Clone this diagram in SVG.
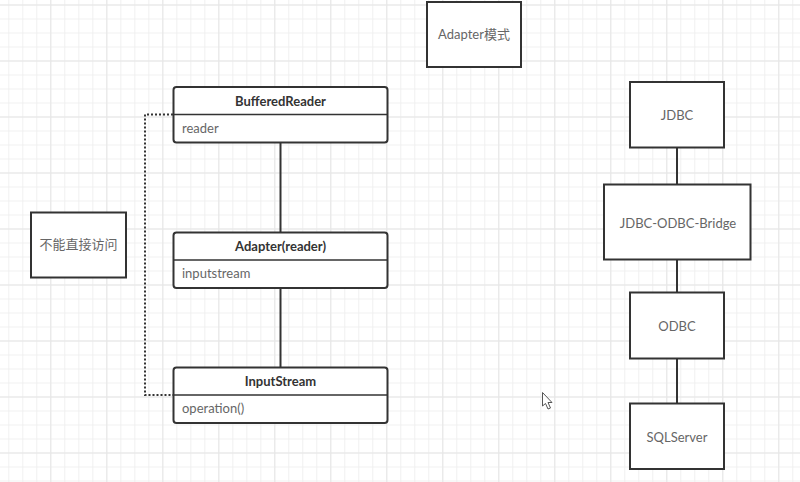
<svg xmlns="http://www.w3.org/2000/svg" width="800" height="482" viewBox="0 0 800 482">
<defs>
<pattern id="minor" x="8.3" y="4.5" width="14" height="14" patternUnits="userSpaceOnUse">
<path d="M0 0.5H14M0.5 0V14" fill="none" stroke="#f0f0f0" stroke-width="1"/>
</pattern>
<pattern id="major" x="50.3" y="4.5" width="56" height="56" patternUnits="userSpaceOnUse">
<path d="M0 0.5H56M0.5 0V56" fill="none" stroke="#e6e6e6" stroke-width="1"/>
</pattern>
</defs>
<style>
.box{fill:#fff;stroke:#333;stroke-width:2}
.cls{fill:#fff;stroke:#333;stroke-width:2}
.div{stroke:#333;stroke-width:1.5}
.t{font-family:Lato,"Noto Sans CJK SC",sans-serif;font-size:13px;fill:#666}
.h{font-family:Lato,"Noto Sans CJK SC",sans-serif;font-size:13px;font-weight:bold;fill:#333;text-anchor:middle}
.c{text-anchor:middle}
.ln{stroke:#333;stroke-width:2;fill:none}
.dot{stroke:#333;stroke-width:2;fill:none;stroke-dasharray:2 2}
</style>
<rect width="800" height="482" fill="#fff"/>
<rect width="800" height="482" fill="url(#minor)"/>
<rect width="800" height="482" fill="url(#major)"/>

<g id="connectors">
<line class="ln" x1="280.5" y1="143" x2="280.5" y2="232"/>
<line class="ln" x1="280.5" y1="288" x2="280.5" y2="367"/>
<polyline class="dot" points="173,114.5 145,114.5 145,395 173,395"/>
<line class="ln" x1="677" y1="147" x2="677" y2="184"/>
<line class="ln" x1="677" y1="259" x2="677" y2="292"/>
<line class="ln" x1="677" y1="358" x2="677" y2="403"/>
</g>

<g id="title">
<rect class="box" x="427" y="2" width="94" height="65"/>
<text class="t c" x="474" y="39">Adapter模式</text>
</g>

<g id="note">
<rect class="box" x="31" y="212.5" width="95" height="65"/>
<text class="t c" x="78.5" y="249">不能直接访问</text>
</g>

<g id="BufferedReader">
<rect class="cls" x="173.5" y="87" width="214" height="55.5" rx="3"/>
<line class="div" x1="173.5" y1="114.5" x2="387.5" y2="114.5"/>
<text class="h" x="280.5" y="106">BufferedReader</text>
<text class="t" x="182" y="133">reader</text>
</g>

<g id="Adapter">
<rect class="cls" x="173.5" y="232.5" width="214" height="55.5" rx="3"/>
<line class="div" x1="173.5" y1="260" x2="387.5" y2="260"/>
<text class="h" x="280.5" y="251">Adapter(reader)</text>
<text class="t" x="182" y="278">inputstream</text>
</g>

<g id="InputStream">
<rect class="cls" x="173.5" y="367.5" width="214" height="55.5" rx="3"/>
<line class="div" x1="173.5" y1="395" x2="387.5" y2="395"/>
<text class="h" x="280.5" y="386">InputStream</text>
<text class="t" x="182" y="413">operation()</text>
</g>

<g id="JDBC">
<rect class="box" x="630" y="82" width="94" height="65.5"/>
<text class="t c" x="677" y="120">JDBC</text>
</g>

<g id="Bridge">
<rect class="box" x="604" y="184.5" width="146.5" height="75"/>
<text class="t c" x="678" y="227.5">JDBC-ODBC-Bridge</text>
</g>

<g id="ODBC">
<rect class="box" x="630" y="292.5" width="94" height="66"/>
<text class="t c" x="677" y="330.5">ODBC</text>
</g>

<g id="SQLServer">
<rect class="box" x="630" y="403.5" width="94" height="65.5"/>
<text class="t c" x="677" y="441.5">SQLServer</text>
</g>

<path d="M542.5 392.5 L542.5 406 L545.5 403.5 L548 409 L550.5 408 L548 402.5 L552 402.5 Z" fill="#fff" stroke="#555" stroke-width="1" stroke-linejoin="round"/>
</svg>
